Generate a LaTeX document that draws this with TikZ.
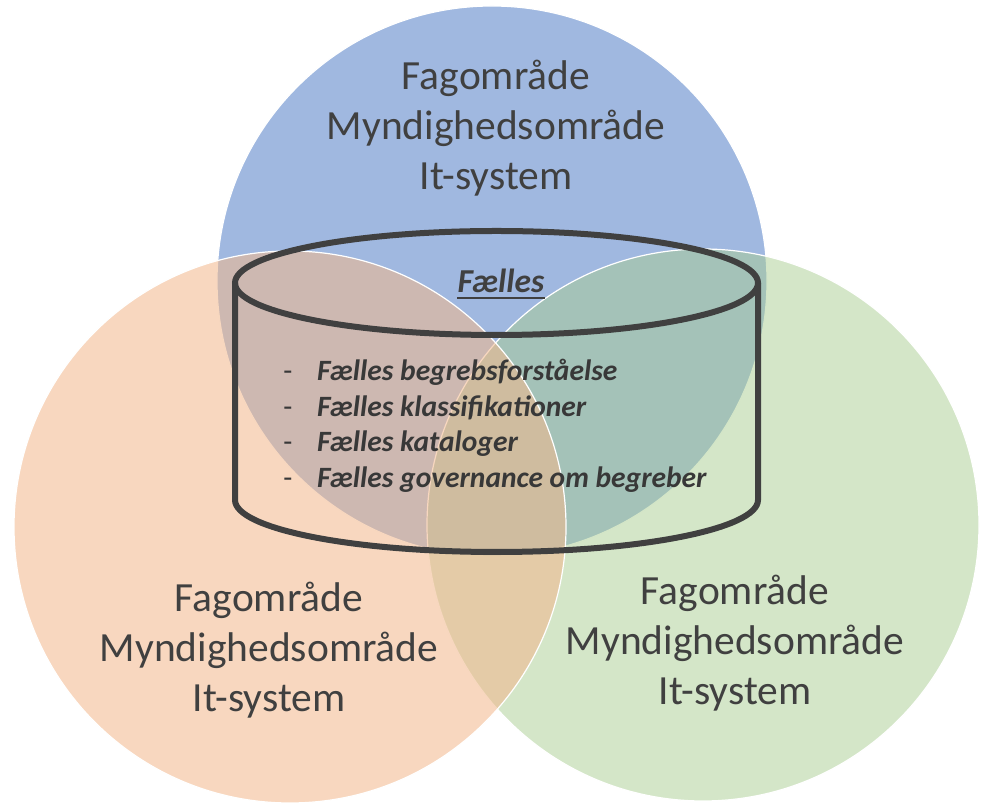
\documentclass[tikz,border=0pt]{standalone}
\usepackage{fontspec}
\setmainfont{Carlito}
\usepackage{tikz}

\definecolor{fagblue}{HTML}{A0B8E0}
\definecolor{fagorange}{HTML}{F2B88D}
\definecolor{faggreen}{HTML}{A9CD91}
\definecolor{textgray}{HTML}{404040}
\definecolor{listgray}{HTML}{383838}

\tikzset{
  circ/.style={draw=white, line width=1.2},
  cylline/.style={draw=textgray, line width=6},
  bigtext/.style={anchor=base, align=center, text=textgray, inner sep=0, font=\fontsize{41.5}{50}\selectfont},
  itemtext/.style={anchor=base west, text=listgray, inner sep=0, font=\fontsize{29.5}{35}\selectfont\bfseries\itshape},
  dashtext/.style={anchor=base, text=listgray, inner sep=0, font=\fontsize{29.5}{35}\selectfont}
}

\begin{document}
\begin{tikzpicture}[x=1pt,y=1pt]
\useasboundingbox (0,0) rectangle (987,805);
\fill[fagblue, circ] (492,524) circle (275);
\fill[faggreen, fill opacity=0.5, circ] (703,280) circle (276);
\fill[fagorange, fill opacity=0.56, circ] (290,278) circle (276);
\draw[cylline] (496.5,522) ellipse [x radius=261.5, y radius=52];
\draw[cylline] (235,522) -- (235,305) arc [start angle=180, end angle=360, x radius=261.5, y radius=52] -- (758,522);
\node[bigtext] (topsys) at (496,615) {Fagområde\\Myndighedsområde\\It-system};
\node[bigtext] (leftsys) at (269,93) {Fagområde\\Myndighedsområde\\It-system};
\node[bigtext] (rightsys) at (735,100) {Fagområde\\Myndighedsområde\\It-system};
\node[anchor=base, text=textgray, inner sep=0, font=\fontsize{33.5}{40}\selectfont\bfseries\itshape] (fhead) at (501,512) {Fælles};
\draw[textgray, line width=2.5] ([yshift=-5]fhead.base west) -- ([yshift=-5]fhead.base east);
\node[dashtext] (dash1) at (288,424) {-};
\node[dashtext] (dash2) at (288,388.5) {-};
\node[dashtext] (dash3) at (288,353) {-};
\node[dashtext] (dash4) at (288,317.5) {-};
\node[itemtext] (item1) at (317,424) {Fælles begrebsforståelse};
\node[itemtext] (item2) at (317,388.5) {Fælles klassifikationer};
\node[itemtext] (item3) at (317,353) {Fælles kataloger};
\node[itemtext] (item4) at (317,317.5) {Fælles governance om begreber};
\end{tikzpicture}
\end{document}
